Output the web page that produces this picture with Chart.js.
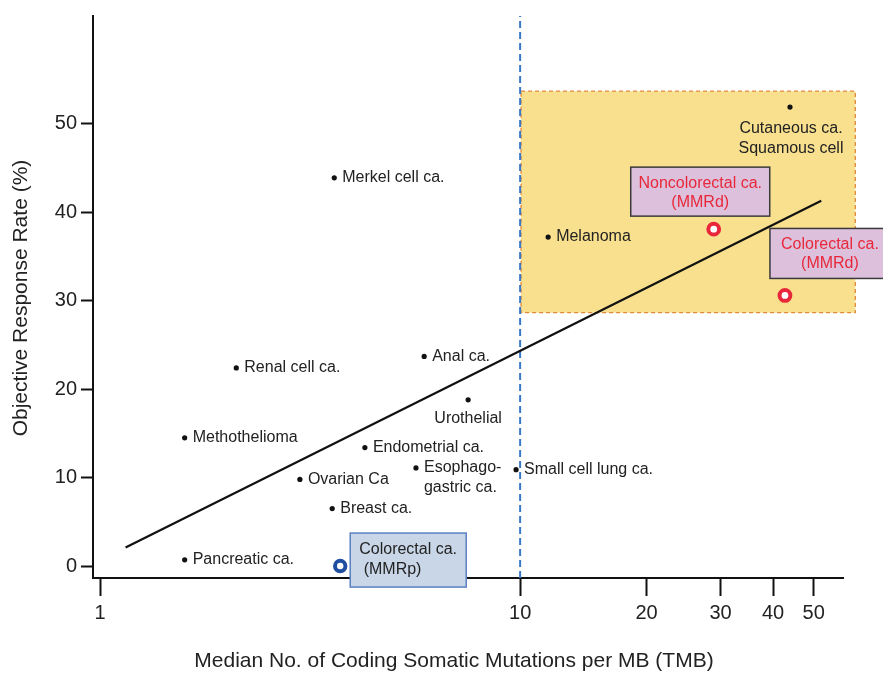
<!DOCTYPE html>
<html lang="en">
<head>
<meta charset="UTF-8">
<title>TMB vs Objective Response Rate</title>
<script src="https://cdn.jsdelivr.net/npm/chart.js"></script>
<style>
  html, body { margin: 0; padding: 0; background: #fff; }
  #wrap { width: 883px; height: 673px; }
</style>
</head>
<body>
<div id="wrap"><canvas id="chart" width="883" height="673"></canvas></div>
<script>
// --- data ---
const tumorNames = ['Pancreatic ca.', 'Methothelioma', 'Renal cell ca.', 'Merkel cell ca.', 'Ovarian Ca',
  'Breast ca.', 'Endometrial ca.', 'Esophago-\ngastric ca.', 'Anal ca.', 'Urothelial',
  'Small cell lung ca.', 'Melanoma', 'Cutaneous ca.\nSquamous cell'];
const tumorTmb = [1.59, 1.59, 2.11, 3.61, 2.99, 3.57, 4.27, 5.65, 5.91, 7.52, 9.78, 11.66, 43.9];
const tumorOrr = [0.7, 14.5, 22.4, 43.9, 9.8, 6.5, 13.4, 11.1, 23.7, 18.8, 10.9, 37.2, 51.9];

const mmrdNames = ['Noncolorectal ca.\n(MMRd)', 'Colorectal ca.\n(MMRd)'];
const mmrdTmb = [28.9, 42.7];
const mmrdOrr = [38.1, 30.6];

const mmrpNames = ['Colorectal ca.\n (MMRp)'];
const mmrpTmb = [3.73];
const mmrpOrr = [0];

const fitTmb = [1.15, 52.1];
const fitOrr = [2.1, 41.3];

const tmbCutoff = 10;
const boxTmb = [10.05, 62.8];
const boxOrr = [28.65, 53.7];

const xTicks = [1, 10, 20, 30, 40, 50];
const yTicks = [0, 10, 20, 30, 40, 50];
const xRange = [0.962, 58.7];
const yRange = [-1.35, 62.2];

// label placement (pixel offsets from the point)
const tumorLabelPos = [
  {dx: 8, dy: 0, align: 'left'}, {dx: 8, dy: 0, align: 'left'}, {dx: 8, dy: 0, align: 'left'},
  {dx: 8, dy: 0, align: 'left'}, {dx: 8, dy: 0, align: 'left'}, {dx: 8, dy: 0, align: 'left'},
  {dx: 8, dy: 0, align: 'left'}, {dx: 8, dy: 0, align: 'left'}, {dx: 8, dy: 0, align: 'left'},
  {dx: 0, dy: 19, align: 'center'}, {dx: 8, dy: 0, align: 'left'}, {dx: 8, dy: 0, align: 'left'},
  {dx: 1, dy: 22, align: 'center'}
];
const mmrdBoxPos = [
  {l: -83, r: 56, t: -62, b: -13},
  {l: -15, r: 105, t: -67, b: -17}
];
const mmrpBoxPos = [{l: 10, r: 126, t: -33, b: 21}];

const FONT = "'Liberation Sans', Arial, Helvetica, sans-serif";
const INK = '#222';
const RED = '#e8283a';
const BLUE = '#1f4ea0';

function pts(xs, ys) { return xs.map((x, i) => ({x: x, y: ys[i]})); }

const overlay = {
  id: 'overlay',
  beforeDatasetsDraw(chart) {
    const {ctx, scales: {x, y}} = chart;
    const x1 = x.getPixelForValue(boxTmb[0]), x2 = x.getPixelForValue(boxTmb[1]);
    const y1 = y.getPixelForValue(boxOrr[1]), y2 = y.getPixelForValue(boxOrr[0]);
    ctx.save();
    ctx.fillStyle = '#f8e08f';
    ctx.fillRect(x1, y1, x2 - x1, y2 - y1);
    ctx.strokeStyle = '#df8a3a';
    ctx.lineWidth = 1.3;
    ctx.setLineDash([4, 3]);
    ctx.strokeRect(x1, y1, x2 - x1, y2 - y1);
    ctx.restore();
  },
  afterDatasetsDraw(chart) {
    const {ctx, scales: {x, y}} = chart;
    ctx.save();
    // tumour labels
    ctx.font = '16px ' + FONT;
    ctx.fillStyle = INK;
    ctx.textBaseline = 'middle';
    tumorNames.forEach((name, i) => {
      const px = x.getPixelForValue(tumorTmb[i]);
      const py = y.getPixelForValue(tumorOrr[i]);
      const p = tumorLabelPos[i];
      ctx.textAlign = p.align;
      name.split('\n').forEach((line, k) => {
        ctx.fillText(line, px + p.dx, py + p.dy + k * 19.5);
      });
    });
    // MMRd boxes
    mmrdNames.forEach((name, i) => {
      const px = x.getPixelForValue(mmrdTmb[i]);
      const py = y.getPixelForValue(mmrdOrr[i]);
      const b = mmrdBoxPos[i];
      ctx.fillStyle = '#dcc0dc';
      ctx.fillRect(px + b.l, py + b.t, b.r - b.l, b.b - b.t);
      ctx.strokeStyle = '#3a3a3a';
      ctx.lineWidth = 1.5;
      ctx.strokeRect(px + b.l, py + b.t, b.r - b.l, b.b - b.t);
      ctx.fillStyle = RED;
      ctx.textAlign = 'center';
      const cx = px + (b.l + b.r) / 2;
      name.split('\n').forEach((line, k) => {
        ctx.fillText(line, cx, py + b.t + 16 + k * 19.5);
      });
    });
    // MMRp box
    mmrpNames.forEach((name, i) => {
      const px = x.getPixelForValue(mmrpTmb[i]);
      const py = y.getPixelForValue(mmrpOrr[i]);
      const b = mmrpBoxPos[i];
      ctx.fillStyle = '#c9d6e8';
      ctx.fillRect(px + b.l, py + b.t, b.r - b.l, b.b - b.t);
      ctx.strokeStyle = '#5b80c2';
      ctx.lineWidth = 1.5;
      ctx.strokeRect(px + b.l, py + b.t, b.r - b.l, b.b - b.t);
      ctx.fillStyle = INK;
      ctx.textAlign = 'left';
      name.split('\n').forEach((line, k) => {
        ctx.fillText(line, px + b.l + 9, py + b.t + 17 + k * 20);
      });
    });
    ctx.restore();
  },
  afterDraw(chart) {
    const {ctx} = chart;
    ctx.save();
    ctx.fillStyle = INK;
    ctx.font = '21px ' + FONT;
    ctx.textAlign = 'center';
    ctx.textBaseline = 'middle';
    ctx.fillText('Median No. of Coding Somatic Mutations per MB (TMB)', 454, 661);
    ctx.translate(21, 298);
    ctx.rotate(-Math.PI / 2);
    ctx.fillText('Objective Response Rate (%)', 0, 0);
    ctx.restore();
  }
};

new Chart(document.getElementById('chart'), {
  type: 'scatter',
  data: {
    datasets: [
      {
        label: 'Tumour types',
        data: pts(tumorTmb, tumorOrr),
        pointRadius: 2.6,
        pointBackgroundColor: '#111',
        pointBorderWidth: 0
      },
      {
        label: 'MMRd',
        data: pts(mmrdTmb, mmrdOrr),
        pointRadius: 5.4,
        pointBackgroundColor: '#fff',
        pointBorderColor: RED,
        pointBorderWidth: 4
      },
      {
        label: 'MMRp',
        data: pts(mmrpTmb, mmrpOrr),
        pointRadius: 5.2,
        pointBackgroundColor: '#fff',
        pointBorderColor: BLUE,
        pointBorderWidth: 4
      },
      {
        type: 'line',
        label: 'Fit',
        data: pts(fitTmb, fitOrr),
        borderColor: '#111',
        borderWidth: 2.2,
        pointRadius: 0,
        fill: false
      },
      {
        type: 'line',
        label: 'TMB 10',
        data: [{x: tmbCutoff, y: yRange[0]}, {x: tmbCutoff, y: yRange[1]}],
        borderColor: '#3a78c8',
        borderWidth: 2,
        borderDash: [7, 4],
        pointRadius: 0,
        fill: false
      }
    ]
  },
  options: {
    responsive: false,
    animation: false,
    layout: { padding: { top: 12, right: 40, left: 0, bottom: 0 } },
    plugins: { legend: { display: false }, tooltip: { enabled: false } },
    scales: {
      x: {
        type: 'logarithmic',
        min: xRange[0],
        max: xRange[1],
        afterBuildTicks: (s) => { s.ticks = xTicks.map(v => ({value: v})); },
        afterFit: (s) => { s.height = 95; },
        ticks: {
          autoSkip: false, maxRotation: 0, padding: 5,
          color: INK, font: { family: FONT, size: 20 },
          callback: (v) => String(v)
        },
        grid: { drawOnChartArea: false, drawTicks: true, tickLength: 18, tickWidth: 2, tickColor: '#111' },
        border: { display: true, color: '#111', width: 2 }
      },
      y: {
        type: 'linear',
        min: yRange[0],
        max: yRange[1],
        afterBuildTicks: (s) => { s.ticks = yTicks.map(v => ({value: v})); },
        afterFit: (s) => { s.width = 93; },
        ticks: {
          padding: 4, color: INK, font: { family: FONT, size: 20 },
          callback: (v) => String(v)
        },
        grid: { drawOnChartArea: false, drawTicks: true, tickLength: 12, tickWidth: 2, tickColor: '#111' },
        border: { display: true, color: '#111', width: 2 }
      }
    }
  },
  plugins: [overlay]
});
</script>
</body>
</html>
